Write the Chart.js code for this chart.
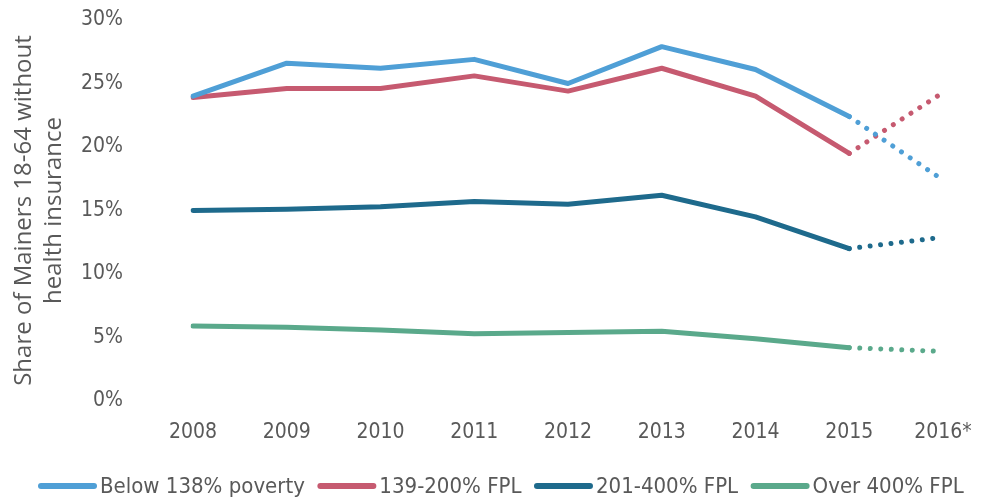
<!DOCTYPE html>
<html>
<head>
<meta charset="utf-8">
<script src="https://cdn.jsdelivr.net/npm/chart.js@4"></script>
<style>
html,body{margin:0;padding:0;background:#fff;}
#wrap{width:982px;height:504px;position:relative;}
</style>
</head>
<body>
<div id="wrap"><canvas id="c" width="982" height="504"></canvas></div>
<script>
const categories = ["2008","2009","2010","2011","2012","2013","2014","2015","2016*"];
const below138 = [24.0, 26.6, 26.2, 26.9, 25.0, 27.9, 26.1, 22.4, 17.4];
const fpl139_200 = [23.9, 24.6, 24.6, 25.6, 24.4, 26.2, 24.0, 19.5, 24.3];
const fpl201_400 = [15.0, 15.1, 15.3, 15.7, 15.5, 16.2, 14.5, 12.0, 12.9];
const over400 = [5.9, 5.8, 5.6, 5.3, 5.4, 5.5, 4.9, 4.2, 3.9];
const yTicks = [0,5,10,15,20,25,30];
const seriesNames = ["Below 138% poverty","139-200% FPL","201-400% FPL","Over 400% FPL"];
const colors = ["#4f9fd6","#c65a70","#1e6a8c","#5aa98b"];
const yTitle = ["Share of Mainers 18-64 without", "health insurance"];

const FONT = "'DejaVu Sans Condensed','Liberation Sans Narrow','Open Sans',sans-serif";
const TEXT = '#595959';
const lastIdx = categories.length - 1;

function ds(label, data, color){
  return {
    label, data,
    borderColor: color, backgroundColor: color,
    borderWidth: 5, pointRadius: 0, pointHoverRadius: 0,
    tension: 0, fill: false,
    borderCapStyle: 'round', borderJoinStyle: 'round',
    segment: {
      borderDash: ctx => ctx.p1DataIndex === lastIdx ? [0.01, 10.5] : undefined
    }
  };
}

const legendPlugin = {
  id: 'customLegend',
  afterDraw(chart){
    const ctx = chart.ctx;
    ctx.save();
    ctx.font = "22px " + FONT;
    ctx.textBaseline = 'middle';
    ctx.textAlign = 'left';
    const yc = 487;
    let x = 38;
    chart.data.datasets.forEach((d, i) => {
      ctx.strokeStyle = d.borderColor;
      ctx.lineWidth = 6;
      ctx.lineCap = 'round';
      ctx.beginPath();
      ctx.moveTo(x + 3, yc - 1);
      ctx.lineTo(x + 56, yc - 1);
      ctx.stroke();
      x += 62;
      ctx.fillStyle = TEXT;
      ctx.fillText(d.label, x, yc);
      x += ctx.measureText(d.label).width + 12.5;
    });
    ctx.restore();
  }
};

new Chart(document.getElementById('c'), {
  type: 'line',
  data: {
    labels: categories,
    datasets: [
      ds(seriesNames[0], below138, colors[0]),
      ds(seriesNames[1], fpl139_200, colors[1]),
      ds(seriesNames[2], fpl201_400, colors[2]),
      ds(seriesNames[3], over400, colors[3])
    ]
  },
  plugins: [legendPlugin],
  options: {
    responsive: false,
    animation: false,
    layout: { padding: { top: 20, right: 39, left: 4, bottom: 0 } },
    plugins: {
      tooltip: { enabled: false },
      legend: { display: false }
    },
    scales: {
      x: {
        offset: false,
        grid: { display: false, drawTicks: false },
        border: { display: false },
        ticks: { color: TEXT, font: { family: FONT, size: 21 }, padding: 19, maxRotation: 0, autoSkip: false },
        afterFit: s => { s.height = 103; s.paddingLeft = 0; s.paddingRight = 0; }
      },
      y: {
        min: 0, max: 30,
        afterBuildTicks: axis => { axis.ticks = yTicks.map(v => ({ value: v })); },
        grid: { display: false, drawTicks: false },
        border: { display: false },
        ticks: { color: TEXT, font: { family: FONT, size: 21 }, padding: 70,
          callback: v => v + '%' },
        title: {
          display: true,
          text: yTitle,
          color: TEXT,
          font: { family: "'Open Sans','Liberation Sans',sans-serif", size: 24, lineHeight: 1.25 },
          padding: { top: 5, bottom: 0 }
        },
        afterFit: s => { s.width = 189; s.paddingTop = 10; s.paddingBottom = 10; }
      }
    }
  }
});
</script>
</body>
</html>
